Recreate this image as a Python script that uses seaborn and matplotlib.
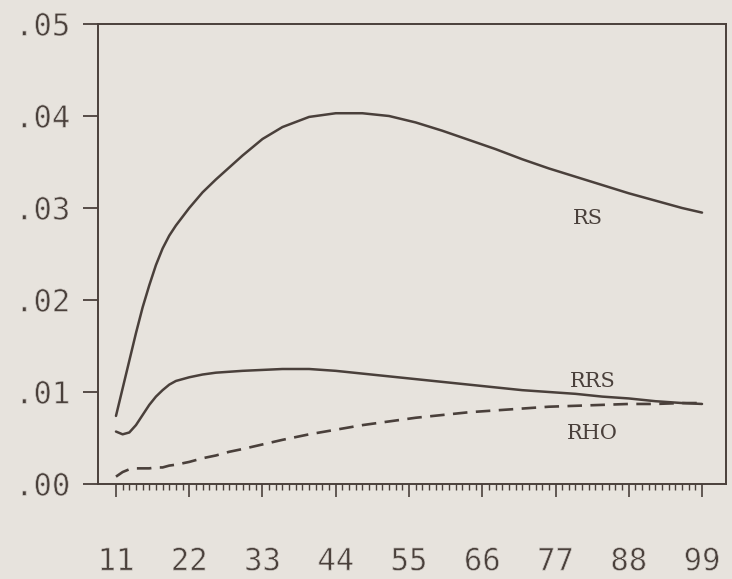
import matplotlib
matplotlib.use("Agg")
import matplotlib.pyplot as plt
import matplotlib.patheffects as pe
from matplotlib.ticker import FixedLocator
import pandas as pd
import seaborn as sns

# Sample sizes along the horizontal axis
n_values = [11, 12, 13, 14, 15, 16, 17, 18, 19, 20, 22, 24, 26, 28, 30, 33, 36,
            40, 44, 48, 52, 56, 60, 64, 68, 72, 76, 80, 84, 88, 92, 96, 99]

rs = [0.0074, 0.0104, 0.0134, 0.0164, 0.0192, 0.0216, 0.0238, 0.0256, 0.0270,
      0.0281, 0.0300, 0.0317, 0.0331, 0.0344, 0.0357, 0.0375, 0.0388,
      0.0399, 0.0403, 0.0403, 0.0400, 0.0393, 0.0384, 0.0374, 0.0364,
      0.0353, 0.0343, 0.0334, 0.0325, 0.0316, 0.0308, 0.0300, 0.0295]

rrs = [0.0057, 0.0054, 0.0056, 0.0064, 0.0075, 0.0086, 0.0095, 0.0102, 0.0108,
       0.0112, 0.0116, 0.0119, 0.0121, 0.0122, 0.0123, 0.0124, 0.0125,
       0.0125, 0.0123, 0.0120, 0.0117, 0.0114, 0.0111, 0.0108, 0.0105,
       0.0102, 0.0100, 0.0098, 0.0095, 0.0093, 0.0090, 0.0088, 0.0087]

rho = [0.0008, 0.0013, 0.0016, 0.0017, 0.0017, 0.0017, 0.0018, 0.0018, 0.0020,
       0.0021, 0.0024, 0.0028, 0.0031, 0.0035, 0.0038, 0.0043, 0.0048,
       0.0054, 0.0059, 0.0064, 0.0068, 0.0072, 0.0075, 0.0078, 0.0080,
       0.0082, 0.0084, 0.0085, 0.0086, 0.0087, 0.0087, 0.0088, 0.0088]

x_ticks = [11, 22, 33, 44, 55, 66, 77, 88, 99]
x_tick_labels = ["11", "22", "33", "44", "55", "66", "77", "88", "99"]
y_ticks = [0.00, 0.01, 0.02, 0.03, 0.04, 0.05]
y_tick_labels = [".00", ".01", ".02", ".03", ".04", ".05"]

curve_names = ["RS", "RRS", "RHO"]
label_x = [81.9, 82.6, 82.6]
label_y = [0.0289, 0.0111, 0.0055]

paper = "#e7e3dd"
ink = "#4a403b"

sns.set_theme(style="ticks")
plt.rcParams["font.family"] = ["DejaVu Sans Mono", "DejaVu Sans"]

df = pd.DataFrame({"n": n_values, "RS": rs, "RRS": rrs, "RHO": rho})

fig = plt.figure(figsize=(7.32, 5.79), dpi=100, facecolor=paper)
ax = fig.add_axes([98 / 732, 95 / 579, 628 / 732, 460 / 579])
ax.set_facecolor(paper)

sns.lineplot(data=df, x="n", y="RS", ax=ax, color=ink, linewidth=1.8)
sns.lineplot(data=df, x="n", y="RRS", ax=ax, color=ink, linewidth=1.8)
sns.lineplot(data=df, x="n", y="RHO", ax=ax, color=ink, linewidth=1.9,
             dashes=False)
ax.lines[-1].set_dashes((5.5, 3.2))

for name, tx, ty in zip(curve_names, label_x, label_y):
    ax.text(tx, ty, name, ha="center", va="center", fontsize=15,
            family="DejaVu Serif", color=ink)

ax.set_xlim(8.3, 102.6)
ax.set_ylim(0, 0.05)

ax.xaxis.set_major_locator(FixedLocator(x_ticks))
ax.set_xticklabels(x_tick_labels)
ax.xaxis.set_minor_locator(FixedLocator(list(range(x_ticks[0], x_ticks[-1] + 1))))
ax.yaxis.set_major_locator(FixedLocator(y_ticks))
ax.set_yticklabels(y_tick_labels)

ax.tick_params(axis="x", which="major", length=9.5, width=1.2, direction="out",
               pad=36, labelsize=22, color=ink, labelcolor=ink, bottom=True)
ax.tick_params(axis="x", which="minor", length=4.5, width=1.0, direction="out",
               color=ink, bottom=True)
ax.tick_params(axis="y", which="major", length=11, width=1.3, direction="out",
               pad=9, labelsize=22, color=ink, labelcolor=ink, left=True)

# thin pen strokes for the tick numerals
thin = [pe.Normal(), pe.Stroke(linewidth=0.5, foreground=paper)]
for lab in ax.get_xticklabels() + ax.get_yticklabels():
    lab.set_path_effects(thin)

for side in ["left", "right", "top", "bottom"]:
    ax.spines[side].set_visible(True)
    ax.spines[side].set_color(ink)
    ax.spines[side].set_linewidth(1.4)

ax.set_xlabel("")
ax.set_ylabel("")
ax.grid(False)

fig.savefig("out.png", dpi=100, facecolor=paper)
